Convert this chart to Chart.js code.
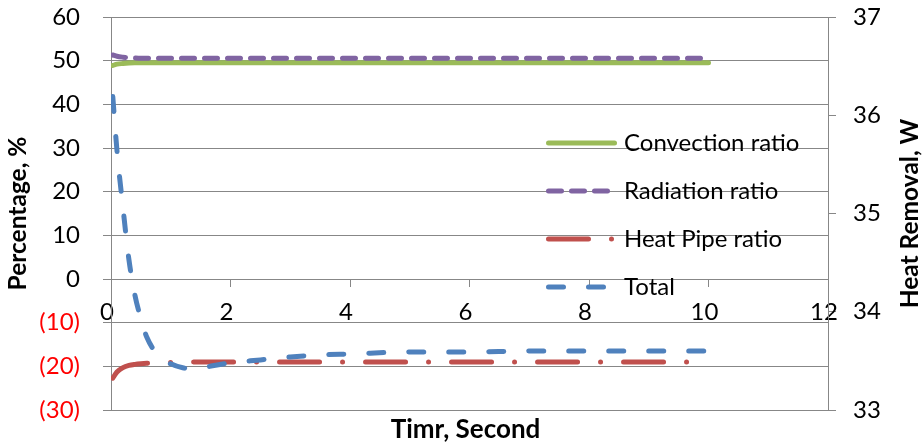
<!DOCTYPE html>
<html>
<head>
<meta charset="utf-8">
<script src="https://cdn.jsdelivr.net/npm/chart.js@4.4.0/dist/chart.umd.min.js"></script>
<style>
  html, body { margin: 0; padding: 0; background: #fff; }
  #wrap { width: 922px; height: 448px; position: relative; }
</style>
</head>
<body>
<div id="wrap"><canvas id="ratioChart"></canvas></div>
<script>
// time samples (s)
const time = [0.03, 0.1, 0.2, 0.3, 0.4, 0.5, 0.6, 0.8, 1, 1.2, 1.4, 1.7, 2, 2.5, 3, 3.5, 4, 5, 6, 7, 8, 9, 10];

// ratios in %, left axis
const convection = [48.9, 49.2, 49.35, 49.45, 49.5, 49.5, 49.5, 49.5, 49.5, 49.5, 49.5, 49.5, 49.5, 49.5, 49.5, 49.5, 49.5, 49.5, 49.5, 49.5, 49.5, 49.5, 49.5];
const radiation = [51.3, 51.0, 50.8, 50.7, 50.6, 50.55, 50.55, 50.55, 50.55, 50.55, 50.55, 50.55, 50.55, 50.55, 50.55, 50.55, 50.55, 50.55, 50.55, 50.55, 50.55, 50.55, 50.55];
const heatPipe = [-22.7, -21.3, -20.3, -19.8, -19.55, -19.4, -19.3, -19.2, -19.1, -19.05, -19.0, -19.0, -19.0, -19.0, -19.0, -19.0, -19.0, -19.0, -19.0, -19.0, -19.0, -19.0, -19.0];

// total heat removal in W, right axis
const totalHeat = [36.19, 35.64, 35.06, 34.53, 34.17, 33.93, 33.74, 33.55, 33.47, 33.43, 33.42, 33.45, 33.48, 33.51, 33.54, 33.56, 33.57, 33.59, 33.59, 33.6, 33.6, 33.6, 33.6];

const seriesNames = ['Convection ratio', 'Radiation ratio', 'Heat Pipe ratio', 'Total'];
const timeTicks = [0, 2, 4, 6, 8, 10, 12];
const percentTicks = [-30, -20, -10, 0, 10, 20, 30, 40, 50, 60];
const heatTicks = [33, 34, 35, 36, 37];

const xTitle = 'Timr, Second';
const leftTitle = 'Percentage, %';
const rightTitle = 'Heat Removal, W';

const GRID = '#878787';
const FONT = 'Lato';

// pick a bold font size so a title spans the given length
const measureCtx = document.createElement('canvas').getContext('2d');
function titleSize(text, length) {
    measureCtx.font = 'bold 100px ' + FONT;
    return Math.round(100 * length / measureCtx.measureText(text).width * 2) / 2;
}
const xTitleSize = titleSize(xTitle, 150);
const leftTitleSize = titleSize(leftTitle, 155);
const rightTitleSize = titleSize(rightTitle, 188);

function pointsFor(values) {
    return time.map((t, i) => ({ x: t, y: values[i] }));
}

function setTicks(list) {
    return scale => { scale.ticks = list.map(v => ({ value: v })); };
}

// fixed axis width, and keep the big label padding from eating into the plot height
function fixWidth(w) {
    return scale => {
        scale.width = w;
        scale.paddingTop = 0;
        scale.paddingBottom = 0;
    };
}

// legend rows and the two axis titles that Chart.js can't place the way we want
const extrasPlugin = {
    id: 'extras',
    afterDraw(chart) {
        const ctx = chart.ctx;
        const area = chart.chartArea;
        ctx.save();

        const lineStart = area.left + 437.5;
        const lineEnd = lineStart + 66;
        const textX = area.left + 513;
        chart.data.datasets.forEach((ds, i) => {
            const y = area.top + 126 + i * 48;
            ctx.beginPath();
            ctx.setLineDash(ds.borderDash || []);
            ctx.lineCap = 'round';
            ctx.lineWidth = ds.borderWidth;
            ctx.strokeStyle = ds.borderColor;
            ctx.moveTo(lineStart, y);
            ctx.lineTo(lineEnd, y);
            ctx.stroke();
            ctx.setLineDash([]);
            ctx.fillStyle = '#000';
            ctx.font = '24px ' + FONT;
            ctx.textAlign = 'left';
            ctx.textBaseline = 'middle';
            ctx.fillText(ds.label, textX, y);
        });

        ctx.fillStyle = '#000';
        ctx.textAlign = 'center';
        ctx.textBaseline = 'middle';
        ctx.font = 'bold ' + xTitleSize + 'px ' + FONT;
        ctx.fillText(xTitle, (area.left + area.right) / 2 - 4, 430);

        ctx.font = 'bold ' + rightTitleSize + 'px ' + FONT;
        ctx.translate(910, (area.top + area.bottom) / 2);
        ctx.rotate(-Math.PI / 2);
        ctx.fillText(rightTitle, 0, 0);
        ctx.restore();
    }
};

const datasets = [
    { label: seriesNames[0], data: pointsFor(convection), borderColor: '#9BBB59', borderWidth: 5, borderDash: [], yAxisID: 'y', order: 4 },
    { label: seriesNames[1], data: pointsFor(radiation), borderColor: '#8064A2', borderWidth: 5, borderDash: [13, 10], yAxisID: 'y', order: 3 },
    { label: seriesNames[2], data: pointsFor(heatPipe), borderColor: '#C0504D', borderWidth: 5, borderDash: [40, 23, 0, 23], yAxisID: 'y', order: 2 },
    { label: seriesNames[3], data: pointsFor(totalHeat), borderColor: '#4F81BD', borderWidth: 5, borderDash: [15, 25], yAxisID: 'y2', order: 1 }
];
datasets.forEach(ds => {
    ds.pointRadius = 0;
    ds.fill = false;
    ds.borderCapStyle = 'round';
    ds.cubicInterpolationMode = 'monotone';
});

new Chart(document.getElementById('ratioChart'), {
    type: 'line',
    data: { datasets },
    options: {
        responsive: true,
        maintainAspectRatio: false,
        animation: false,
        devicePixelRatio: 1,
        layout: { padding: { top: 17, bottom: 38, left: 0, right: 0 } },
        plugins: {
            legend: { display: false },
            tooltip: { enabled: false }
        },
        scales: {
            x: {
                type: 'linear',
                position: { y: 0 },
                min: 0,
                max: 12,
                afterBuildTicks: setTicks(timeTicks),
                grid: { drawOnChartArea: false, color: GRID, tickLength: 7 },
                border: { color: GRID, width: 1 },
                ticks: { color: '#000', font: { family: FONT, size: 24 }, padding: 12, labelOffset: -4, maxRotation: 0, autoSkip: false }
            },
            y: {
                position: 'left',
                min: -30,
                max: 60,
                afterBuildTicks: setTicks(percentTicks),
                afterFit: fixWidth(111),
                grid: { color: GRID, tickLength: 8 },
                border: { color: GRID, width: 1 },
                ticks: {
                    font: { family: FONT, size: 24 },
                    padding: 23,
                    color: c => c.tick.value < 0 ? '#FF0000' : '#000',
                    callback: v => v < 0 ? '(' + (-v) + ')' : String(v)
                },
                title: {
                    display: true,
                    text: leftTitle,
                    color: '#000',
                    font: { family: FONT, size: leftTitleSize, weight: 'bold' },
                    padding: { top: 3, bottom: 0 }
                }
            },
            y2: {
                position: 'right',
                min: 33,
                max: 37,
                afterBuildTicks: setTicks(heatTicks),
                afterFit: fixWidth(94),
                grid: { drawOnChartArea: false, color: GRID, tickLength: 8 },
                border: { color: GRID, width: 1 },
                ticks: { color: '#000', font: { family: FONT, size: 24 }, padding: 17 }
            }
        }
    },
    plugins: [extrasPlugin]
});
</script>
</body>
</html>
